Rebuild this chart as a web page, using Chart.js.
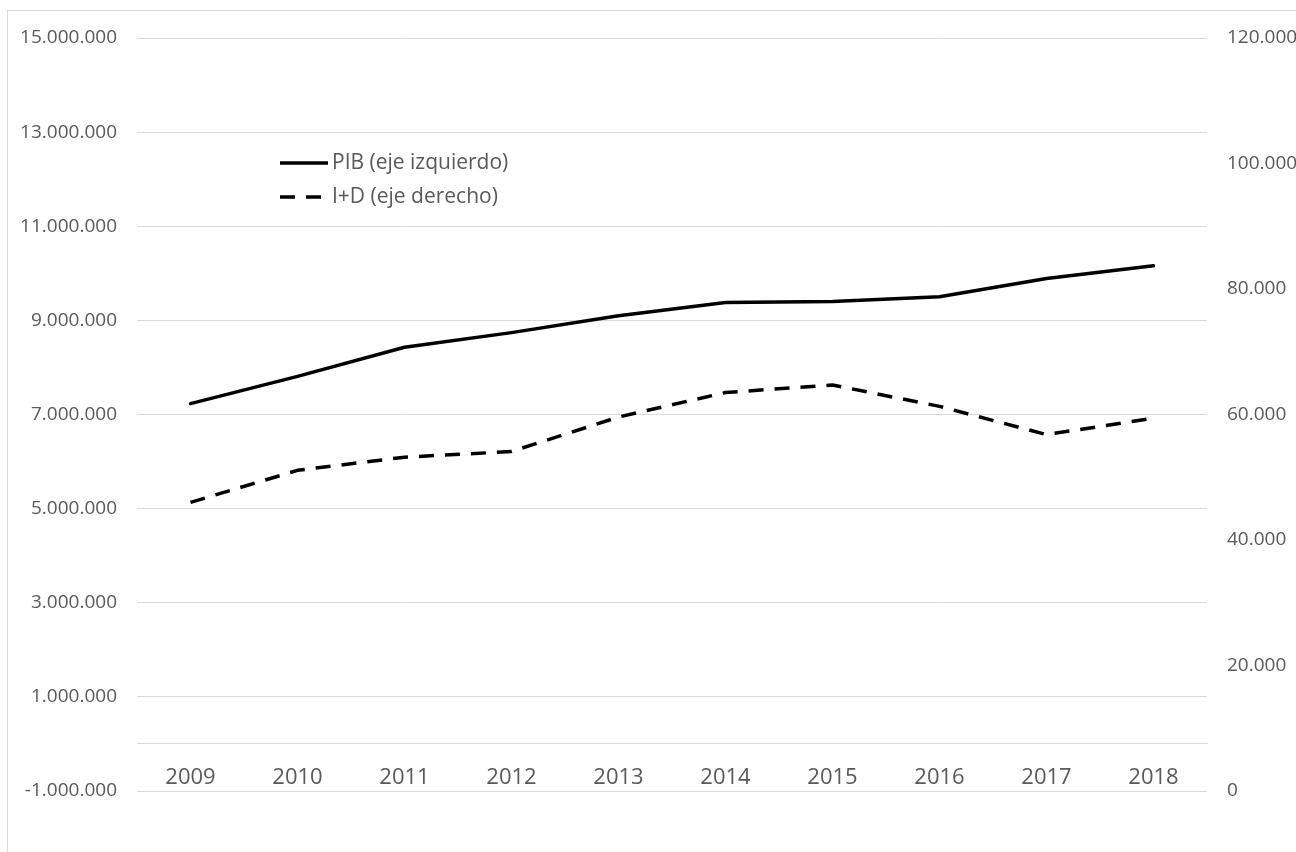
<!DOCTYPE html>
<html lang="es">
<head>
<meta charset="utf-8">
<title>PIB e I+D 2009-2018</title>
<script src="https://cdn.jsdelivr.net/npm/chart.js@4/dist/chart.umd.min.js"></script>
<style>
  html, body { margin: 0; padding: 0; background: #fff; }
  #wrap { position: relative; width: 1296px; height: 852px; overflow: hidden; }
  #frame { position: absolute; left: 7px; top: 10px; width: 1400px; height: 1000px; border: 1px solid #d9d9d9; }
  #chart { position: absolute; left: 0; top: 0; }
</style>
</head>
<body>
<div id="wrap">
  <div id="frame"></div>
  <canvas id="chart" width="1296" height="852"></canvas>
</div>
<script>
const years = ['2009', '2010', '2011', '2012', '2013', '2014', '2015', '2016', '2017', '2018'];
const pib = [7230000, 7810000, 8430000, 8740000, 9100000, 9380000, 9400000, 9500000, 9890000, 10160000];
const idi = [46000, 51100, 53200, 54100, 59600, 63500, 64700, 61300, 56800, 59400];
const seriesNames = ['PIB (eje izquierdo)', 'I+D (eje derecho)'];

const textGray = '#595959';
const gridGray = '#d9d9d9';
const fontFamily = '"Open Sans", "Liberation Sans", sans-serif';

// 1234567 -> 1.234.567
function puntos(v) {
  return Math.round(v).toString().replace(/\B(?=(\d{3})+(?!\d))/g, '.');
}

// legend drawn inside the plot, under the 13.000.000 line
const insideLegend = {
  id: 'insideLegend',
  afterDraw(chart) {
    const ctx = chart.ctx;
    ctx.save();
    ctx.font = '21px ' + fontFamily;
    ctx.textBaseline = 'middle';
    chart.data.datasets.forEach((ds, i) => {
      const y = 163 + i * 34;
      ctx.beginPath();
      ctx.setLineDash(ds.borderDash || []);
      ctx.lineWidth = ds.borderWidth;
      ctx.strokeStyle = ds.borderColor;
      ctx.moveTo(280, y);
      ctx.lineTo(328, y);
      ctx.stroke();
      ctx.setLineDash([]);
      ctx.fillStyle = textGray;
      ctx.fillText(ds.label, 332, y);
    });
    ctx.restore();
  }
};

new Chart(document.getElementById('chart'), {
  type: 'line',
  data: {
    labels: years,
    datasets: [
      {
        label: seriesNames[0],
        data: pib,
        yAxisID: 'y',
        borderColor: '#000',
        borderWidth: 3.5,
        pointRadius: 0,
        tension: 0,
        borderCapStyle: 'round',
        borderJoinStyle: 'round'
      },
      {
        label: seriesNames[1],
        data: idi,
        yAxisID: 'y2',
        borderColor: '#000',
        borderWidth: 3.5,
        borderDash: [15, 11],
        pointRadius: 0,
        tension: 0,
        borderJoinStyle: 'round'
      }
    ]
  },
  options: {
    responsive: false,
    devicePixelRatio: 1,
    animation: false,
    layout: { padding: { top: 38, bottom: 61, left: 0, right: 0 } },
    plugins: {
      legend: { display: false },
      tooltip: { enabled: false }
    },
    scales: {
      x: {
        type: 'category',
        position: { y: 0 },
        offset: true,
        grid: { display: false, drawTicks: false },
        border: { display: true, color: gridGray, width: 1 },
        ticks: {
          color: textGray,
          font: { family: fontFamily, size: 22 },
          padding: 21,
          maxRotation: 0,
          autoSkip: false
        }
      },
      y: {
        position: 'left',
        min: -1000000,
        max: 15000000,
        grid: { color: gridGray, lineWidth: 1, drawTicks: false },
        border: { display: false },
        ticks: {
          stepSize: 2000000,
          color: textGray,
          font: { family: fontFamily, size: 19 },
          padding: 20,
          callback: v => puntos(v)
        },
        afterFit: s => { s.width = 137; }
      },
      y2: {
        position: 'right',
        min: 0,
        max: 120000,
        grid: { display: false, drawTicks: false },
        border: { display: false },
        ticks: {
          stepSize: 20000,
          color: textGray,
          font: { family: fontFamily, size: 19 },
          padding: 20,
          callback: v => puntos(v)
        },
        afterFit: s => { s.width = 89; }
      }
    }
  },
  plugins: [insideLegend]
});
</script>
</body>
</html>
